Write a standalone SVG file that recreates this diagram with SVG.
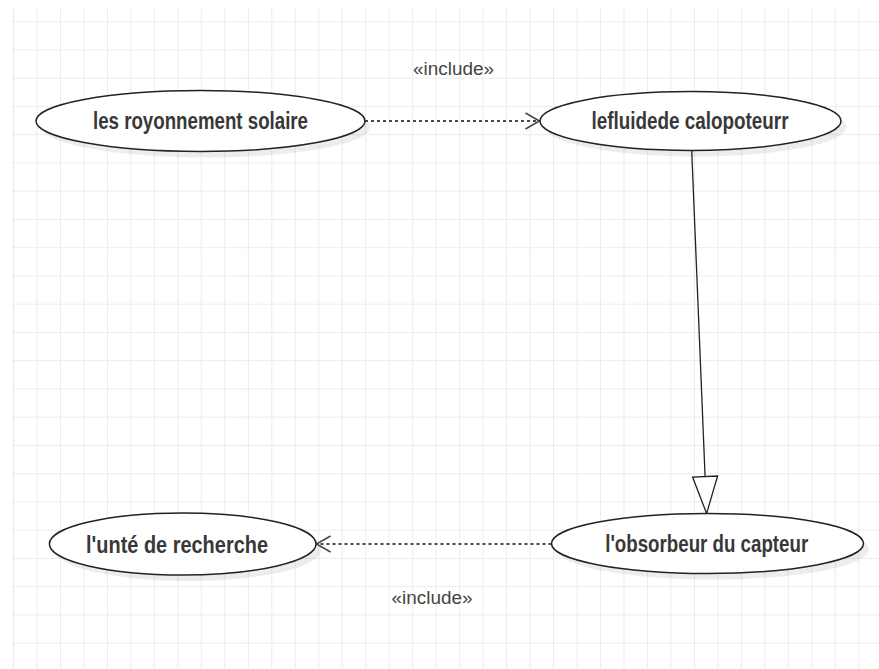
<svg xmlns="http://www.w3.org/2000/svg" width="879" height="669" viewBox="0 0 879 669">
  <style>
    .grid { stroke: #ececec; stroke-width: 1; fill: none; }
    .uc { fill: #ffffff; stroke: #222222; stroke-width: 1.5; }
    .shadow { fill: #000000; opacity: 0.07; }
    .lbl { font-family: "Liberation Sans", Arial, sans-serif; font-weight: bold; font-size: 23px; fill: #383838; text-anchor: middle; }
    .stereo { font-family: "Liberation Sans", Arial, sans-serif; font-size: 18px; fill: #444444; text-anchor: middle; }
    .dep { stroke: #4a4a4a; stroke-width: 2; stroke-dasharray: 3 3; fill: none; }
    .gen { stroke: #222222; stroke-width: 1.3; fill: none; }
  </style>
  <defs>
    <marker id="openArrow" markerUnits="userSpaceOnUse" markerWidth="18" markerHeight="20" refX="15" refY="9" orient="auto">
      <path d="M1,1 L15,9 L1,17" fill="none" stroke="#444444" stroke-width="1.5" stroke-dasharray="none"/>
    </marker>
    <marker id="hollowTri" markerUnits="userSpaceOnUse" markerWidth="42" markerHeight="30" refX="38" refY="13.5" orient="auto">
      <path d="M1,1 L38,13.5 L1,26 Z" fill="#ffffff" stroke="#222222" stroke-width="1.3"/>
    </marker>
  </defs>

  <rect x="0" y="0" width="879" height="669" fill="#ffffff"/>

  <g id="grid" class="grid">
    <path d="M13.5,8V669M36.98,8V669M60.46,8V669M83.94,8V669M107.42,8V669M130.9,8V669M154.38,8V669M177.86,8V669M201.34,8V669M224.82,8V669M248.3,8V669M271.78,8V669M295.26,8V669M318.74,8V669M342.22,8V669M365.7,8V669M389.18,8V669M412.66,8V669M436.14,8V669M459.62,8V669M483.1,8V669M506.58,8V669M530.06,8V669M553.54,8V669M577.02,8V669M600.5,8V669M623.98,8V669M647.46,8V669M670.94,8V669M694.42,8V669M717.9,8V669M741.38,8V669M764.86,8V669M788.34,8V669M811.82,8V669M835.3,8V669M858.78,8V669"/>
    <path d="M12,21.7H879M12,49.95H879M12,78.2H879M12,106.45H879M12,134.7H879M12,162.95H879M12,191.2H879M12,219.45H879M12,247.7H879M12,275.95H879M12,304.2H879M12,332.45H879M12,360.7H879M12,388.95H879M12,417.2H879M12,445.45H879M12,473.7H879M12,501.95H879M12,530.2H879M12,558.45H879M12,586.7H879M12,614.95H879M12,643.2H879"/>
  </g>

  <g id="connectors">
    <line class="dep" x1="365" y1="121" x2="539.5" y2="121" marker-end="url(#openArrow)"/>
    <text class="stereo" x="453.5" y="75" textLength="81" lengthAdjust="spacingAndGlyphs">«include»</text>
    <line class="dep" x1="551.5" y1="544" x2="316.5" y2="544" marker-end="url(#openArrow)"/>
    <text class="stereo" x="432" y="604" textLength="81" lengthAdjust="spacingAndGlyphs">«include»</text>
    <line class="gen" x1="691.7" y1="150.5" x2="706.6" y2="513.5" marker-end="url(#hollowTri)"/>
  </g>

  <g id="node-rayonnement">
    <ellipse class="shadow" cx="206" cy="127" rx="164.5" ry="30.5"/>
    <ellipse class="uc" cx="200.5" cy="121" rx="164.5" ry="30.5"/>
    <text class="lbl" x="200.5" y="129" textLength="215" lengthAdjust="spacingAndGlyphs">les royonnement solaire</text>
  </g>

  <g id="node-fluide">
    <ellipse class="shadow" cx="696" cy="127" rx="150.5" ry="29.5"/>
    <ellipse class="uc" cx="690.5" cy="121" rx="150.5" ry="29.5"/>
    <text class="lbl" x="690" y="128.5" textLength="197" lengthAdjust="spacingAndGlyphs">lefluidede calopoteurr</text>
  </g>

  <g id="node-absorbeur">
    <ellipse class="shadow" cx="713" cy="549.5" rx="156" ry="30"/>
    <ellipse class="uc" cx="707.5" cy="543.5" rx="156" ry="30"/>
    <text class="lbl" x="706.7" y="552" textLength="203" lengthAdjust="spacingAndGlyphs">l'obsorbeur du capteur</text>
  </g>

  <g id="node-unite">
    <ellipse class="shadow" cx="188" cy="550" rx="133.3" ry="31"/>
    <ellipse class="uc" cx="182.7" cy="544" rx="133.3" ry="31"/>
    <text class="lbl" x="177" y="552.5" textLength="182" lengthAdjust="spacingAndGlyphs">l'unté de recherche</text>
  </g>
</svg>
